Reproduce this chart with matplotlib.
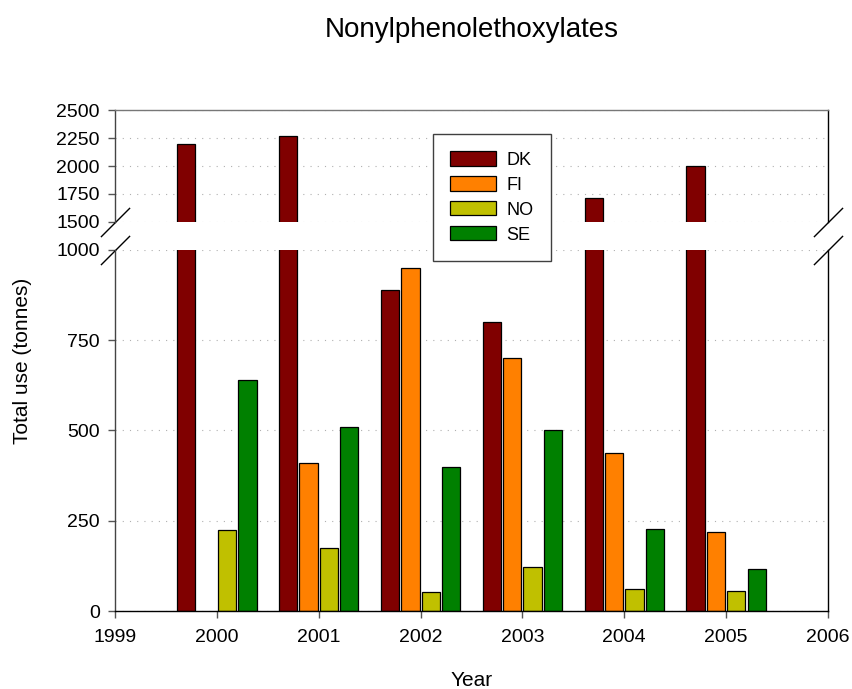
import numpy as np
import matplotlib
matplotlib.use("Agg")
import matplotlib.pyplot as plt

plt.rcParams['font.family'] = ['Liberation Sans', 'DejaVu Sans']

# data
years = np.array([2000, 2001, 2002, 2003, 2004, 2005])
countries = ["DK", "FI", "NO", "SE"]
dk = [2200, 2270, 890, 800, 1710, 2000]
fi = [np.nan, 410, 950, 700, 437, 220]
no = [225, 175, 53, 121, 60, 56]
se = [640, 510, 400, 500, 228, 116]
series = [dk, fi, no, se]
colors = ["#800000", "#FF8000", "#C0C000", "#008000"]
offsets = [-0.3, -0.1, 0.1, 0.3]

fig = plt.figure(figsize=(8.52, 6.89), dpi=100)
ax_top = fig.add_axes([0.135, 0.6782, 0.8368, 0.1617])
ax_bot = fig.add_axes([0.135, 0.1132, 0.8368, 0.524])

for ax in (ax_top, ax_bot):
    for vals, col, off, lab in zip(series, colors, offsets, countries):
        ax.bar(years + off, vals, width=0.18, color=col, edgecolor="black",
               linewidth=0.9, label=lab)
    ax.set_xlim(1999, 2006)
    ax.set_axisbelow(True)
    ax.yaxis.grid(True, linestyle=(0, (1, 5.5)), color="#b0b0b0", linewidth=0.8)
    ax.tick_params(axis="both", direction="out", length=5, width=1,
                   color="#555555", labelsize=14, pad=6)
    for s in ax.spines.values():
        s.set_linewidth(1)
        s.set_color("black")

ax_top.set_ylim(1500, 2500)
ax_top.set_yticks([1500, 1750, 2000, 2250, 2500])
ax_top.spines["bottom"].set_visible(False)
ax_top.spines["top"].set_color("#777777")
ax_top.spines["left"].set_color("#444444")
ax_top.tick_params(axis="x", bottom=False, labelbottom=False)

ax_bot.set_ylim(0, 1000)
ax_bot.set_yticks([0, 250, 500, 750, 1000])
ax_bot.set_xticks(range(1999, 2007))
ax_bot.spines["top"].set_visible(False)
ax_bot.spines["left"].set_color("#444444")
ax_bot.tick_params(axis="x", pad=8)

# break marks
kw = dict(marker=[(-1, -1), (1, 1)], markersize=21, linestyle="none",
          color="k", mec="k", mew=1, clip_on=False)
ax_top.plot([0, 1], [0, 0], transform=ax_top.transAxes, **kw)
ax_bot.plot([0, 1], [1, 1], transform=ax_bot.transAxes, **kw)

handles, labels = ax_bot.get_legend_handles_labels()
leg = fig.legend(handles, labels, loc="upper left", bbox_to_anchor=(0.5086, 0.8051),
                 borderaxespad=0, fontsize=13, handlelength=2.5, handleheight=0.83,
                 labelspacing=0.42, handletextpad=0.6, borderpad=0.95,
                 fancybox=False, framealpha=1, edgecolor="#404040")
leg.get_frame().set_linewidth(1)

fig.text(0.5534, 0.957, "Nonylphenolethoxylates", ha="center", va="center", fontsize=20)
fig.text(0.026, 0.476, "Total use (tonnes)", rotation=90, ha="center", va="center", fontsize=15)
fig.text(0.5534, 0.013, "Year", ha="center", va="center", fontsize=15)

fig.savefig("out.png", dpi=100)
